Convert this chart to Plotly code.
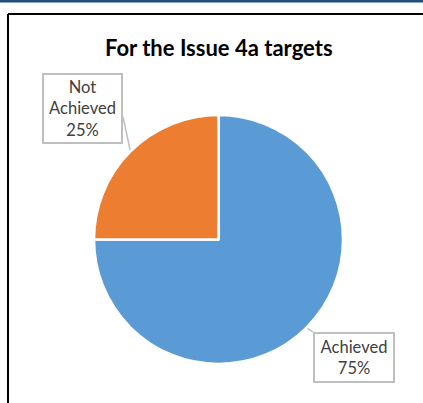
import math
import plotly.graph_objects as go

# Chart data
labels = ["Achieved", "Not Achieved"]
values = [75, 25]
colors = ["#5B9BD5", "#ED7D31"]
title_text = "For the Issue 4a targets"

W, H = 423, 403
CX, CY, R = 218.5, 239.5, 124.5  # pie centre/radius in pixels


def px(x):
    return x / W


def py(y):
    return 1 - y / H


fig = go.Figure(
    go.Pie(
        labels=labels,
        values=values,
        marker=dict(colors=colors, line=dict(color="white", width=2.5)),
        direction="clockwise",
        rotation=0,
        sort=False,
        textinfo="none",
        hoverinfo="label+percent",
        domain=dict(x=[px(CX - R), px(CX + R)], y=[py(CY + R), py(CY - R)]),
        showlegend=False,
    )
)

total = sum(values)
# data label boxes: (left, top, right, bottom) in pixels
boxes = {
    "Achieved": (313, 332, 395, 383),
    "Not Achieved": (42, 73, 123, 144),
}
label_text = {
    "Achieved": "Achieved",
    "Not Achieved": "Not<br>Achieved",
}

shapes = []
annotations = []
start = 0.0
for lab, val in zip(labels, values):
    frac = val / total
    mid = (start + frac / 2) * 2 * math.pi  # clockwise from 12 o'clock
    start += frac
    ex = CX + R * math.sin(mid)
    ey = CY - R * math.cos(mid)
    l, t, r, b = boxes[lab]
    pct = round(100 * frac)
    annotations.append(
        dict(
            x=px((l + r) / 2), y=py((t + b) / 2), xref="paper", yref="paper",
            text=f"{label_text[lab]}<br>{pct}%", showarrow=False,
            font=dict(family="Lato, Liberation Sans, sans-serif", size=16.5, color="#404040"),
            bordercolor="#BFBFBF", borderwidth=2, bgcolor="white",
            width=r - l - 6, height=b - t - 6, borderpad=1,
            xanchor="center", yanchor="middle",
        )
    )
    # leader line from slice edge to the nearest box corner
    if ex < CX:
        lx, ly = r, t + 0.62 * (b - t)
    else:
        lx, ly = l, t
    shapes.append(dict(type="line", xref="paper", yref="paper",
                       x0=px(ex), y0=py(ey), x1=px(lx), y1=py(ly),
                       line=dict(color="#BFBFBF", width=1.5), layer="below"))

annotations.append(
    dict(
        x=px(218.5), y=py(47.5), xref="paper", yref="paper", text=f"<b>{title_text}</b>",
        showarrow=False, font=dict(family="Lato, Liberation Sans, sans-serif", size=22, color="black"),
        xanchor="center", yanchor="middle",
    )
)

# page frame: blue rule at the top, chart border on top and left
shapes += [
    dict(type="rect", xref="paper", yref="paper", x0=0, x1=1, y0=py(2.5), y1=1,
         fillcolor="#1F4E79", line=dict(width=0)),
    dict(type="line", xref="paper", yref="paper", x0=px(8), x1=1, y0=py(14), y1=py(14),
         line=dict(color="black", width=2)),
    dict(type="line", xref="paper", yref="paper", x0=px(8), x1=px(8), y0=py(14), y1=0,
         line=dict(color="black", width=2)),
]

fig.update_layout(
    width=W, height=H,
    margin=dict(l=0, r=0, t=0, b=0),
    paper_bgcolor="white", plot_bgcolor="white",
    shapes=shapes, annotations=annotations,
)

fig.write_html("out.html", include_plotlyjs=True, config={"displayModeBar": False})
